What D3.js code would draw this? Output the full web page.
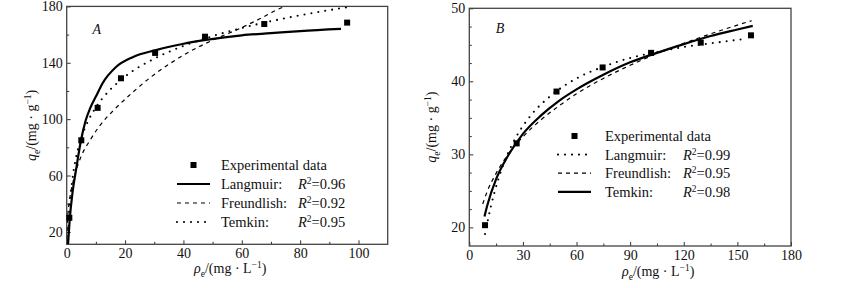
<!DOCTYPE html>
<html>
<head>
<meta charset="utf-8">
<script src="https://cdn.jsdelivr.net/npm/d3@7"></script>
<style>
  body { margin: 0; background: #fff; }
  svg text { font-family: "Liberation Serif", "DejaVu Serif", serif; fill: #111; }
</style>
</head>
<body>
<script>
// Panel A data
var aExpC = [0.9, 5, 10.6, 18.6, 30.3, 47.4, 67.7, 96.1];
var aExpQ = [30, 85, 108, 129, 147, 158.5, 167.5, 168.5];
var aLangC = [0.45, 1, 2, 3.2, 4.9, 6.5, 8.3, 10, 12.3, 16.9, 22.6, 30.6, 39.7, 47.7, 60, 70, 80, 94];
var aLangQ = [11, 28, 48, 64, 85, 99, 109, 116, 125.5, 137, 144, 149, 153.3, 156.2, 159.5, 161, 162.5, 164];
var aFreuC = [0.05, 0.3, 1, 2, 3, 4.9, 8, 11.2, 16.9, 22.6, 28.3, 34, 39.7, 45.4, 50, 60, 66, 73, 76];
var aFreuQ = [15, 28, 43, 54, 62, 73.4, 85, 95, 108, 119, 129, 137.5, 145, 151.5, 156, 165, 171, 178.5, 181];
var aTemkC = [0.5, 1, 2, 3, 5, 7.5, 10, 15, 20, 30, 40, 50, 60, 70, 80, 96];
var aTemkQ = [14.4, 36, 57.9, 70.6, 86.6, 99.4, 108.4, 121.1, 130.2, 142.9, 151.9, 158.9, 164.7, 169.5, 173.7, 179.4];

// Panel B data
var bExpC = [8.8, 26.5, 48.8, 74.6, 101.7, 129.5, 157.6];
var bExpQ = [20.3, 31.5, 38.6, 41.9, 43.9, 45.3, 46.3];
var bLangC = [8.8, 12, 16, 20, 26.5, 35, 45, 60, 75, 90, 105, 120, 135, 154];
var bLangQ = [19.1, 22.8, 26.4, 29.2, 32.5, 35.5, 37.9, 40.4, 42.0, 43.2, 44.0, 44.7, 45.2, 45.8];
var bFreuC = [7.5, 10, 15, 20, 30, 40, 50, 60, 75, 90, 105, 120, 135, 150, 158];
var bFreuQ = [23.2, 24.9, 27.4, 29.4, 32.4, 34.7, 36.6, 38.3, 40.4, 42.2, 43.8, 45.2, 46.5, 47.7, 48.3];
var bTemkC = [8.5, 10, 15, 20, 30, 40, 50, 60, 75, 90, 105, 120, 135, 150, 158.6];
var bTemkQ = [21.5, 22.96, 26.6, 29.1, 32.8, 35.3, 37.3, 38.9, 40.9, 42.6, 43.9, 45.1, 46.2, 47.1, 47.6];

// ticks
var aXTicks = [0, 20, 40, 60, 80, 100];
var aYTicks = [20, 60, 100, 140, 180];
var bXTicks = [0, 30, 60, 90, 120, 150, 180];
var bYTicks = [20, 30, 40, 50];

var w = 857, h = 288;
var serif = "'Liberation Serif', 'DejaVu Serif', serif";

var svg = d3.select("body").append("svg")
    .attr("width", w)
    .attr("height", h)
    .attr("font-family", serif);

// line styles
var styles = {
  solid:  { width: 2.2, dash: null, cap: "butt" },
  dashed: { width: 1.2, dash: "4,4", cap: "butt" },
  dotted: { width: 2.1, dash: "0,7", cap: "round" }
};

// rich text helper: parts = [[text, kind]], kind: "i" italic, "sub", "sup"
function richText(sel, parts) {
  var shift = 0;
  parts.forEach(function(p) {
    var t = sel.append("tspan").text(p[0]);
    var target = 0;
    if (p[1] === "sub") target = 4;
    if (p[1] === "sup") target = -5;
    if (target !== shift) { t.attr("dy", target - shift); shift = target; }
    if (p[1] === "i") t.style("font-style", "italic");
    if (p[1] === "sub" || p[1] === "sup") t.style("font-size", "9.5px");
  });
}

function drawPanel(cfg) {
  var x = d3.scaleLinear().domain(cfg.xDomain).range([cfg.left, cfg.right]);
  var y = d3.scaleLinear().domain(cfg.yDomain).range([cfg.bottom, cfg.top]);
  var g = svg.append("g");

  var clipId = "clip" + cfg.name;
  g.append("clipPath").attr("id", clipId)
    .append("rect")
    .attr("x", cfg.left).attr("y", cfg.top)
    .attr("width", cfg.right - cfg.left).attr("height", cfg.bottom - cfg.top);

  // axes (ticks point inward)
  var xAxis = d3.axisBottom(x).tickValues(cfg.xTicks).tickSize(-4).tickPadding(4);
  var xMinor = d3.axisBottom(x).tickValues(cfg.xMinor).tickSize(-2.5).tickFormat("");
  var yAxis = d3.axisLeft(y).tickValues(cfg.yTicks).tickSize(-4).tickPadding(4);
  var yMinor = d3.axisLeft(y).tickValues(cfg.yMinor).tickSize(-2.5).tickFormat("");

  [[xAxis, "bottom"], [xMinor, "bottom"], [yAxis, "left"], [yMinor, "left"]].forEach(function(a) {
    var ax = g.append("g")
      .attr("transform", a[1] === "bottom" ? "translate(0," + cfg.bottom + ")" : "translate(" + cfg.left + ",0)")
      .call(a[0])
      .attr("font-family", serif)
      .attr("font-size", 14);
    ax.select(".domain").remove();
    ax.selectAll("line").attr("stroke", "#333");
    ax.selectAll("text").attr("fill", "#111");
  });

  // frame
  g.append("rect")
    .attr("x", cfg.left).attr("y", cfg.top)
    .attr("width", cfg.right - cfg.left).attr("height", cfg.bottom - cfg.top)
    .attr("fill", "none").attr("stroke", "#444").attr("stroke-width", 1.3);

  // fitted curves
  var line = d3.line()
    .x(function(d) { return x(d[0]); })
    .y(function(d) { return y(d[1]); })
    .curve(d3.curveMonotoneX);

  cfg.curves.forEach(function(c) {
    var st = styles[c.style];
    g.append("path")
      .datum(d3.zip(c.xs, c.ys))
      .attr("clip-path", "url(#" + clipId + ")")
      .attr("d", line)
      .attr("fill", "none")
      .attr("stroke", "#000")
      .attr("stroke-width", st.width)
      .attr("stroke-linecap", st.cap)
      .attr("stroke-dasharray", st.dash);
  });

  // experimental points
  g.selectAll("rect.pt")
    .data(d3.zip(cfg.expC, cfg.expQ))
    .enter()
    .append("rect")
    .attr("class", "pt")
    .attr("x", function(d) { return x(d[0]) - 3; })
    .attr("y", function(d) { return y(d[1]) - 3; })
    .attr("width", 6).attr("height", 6)
    .attr("fill", "#000");

  // panel letter
  g.append("text")
    .attr("x", cfg.letterPos[0]).attr("y", cfg.letterPos[1])
    .attr("dy", "0.35em")
    .attr("text-anchor", "middle")
    .style("font-style", "italic").style("font-size", "14px")
    .text(cfg.name);

  // axis titles
  var xt = g.append("text")
    .attr("x", (cfg.left + cfg.right) / 2 + cfg.xTitleDx)
    .attr("y", cfg.xTitleY)
    .attr("text-anchor", "middle")
    .style("font-size", "14px");
  richText(xt, [["ρ", "i"], ["e", "sub"], ["/(mg · L", ""], ["−1", "sup"], [")", ""]]);

  var yt = g.append("text")
    .attr("transform", "translate(" + cfg.yTitleX + "," + ((cfg.top + cfg.bottom) / 2) + ") rotate(-90)")
    .attr("text-anchor", "middle")
    .style("font-size", "14px");
  richText(yt, [["q", "i"], ["e", "sub"], ["/(mg · g", ""], ["−1", "sup"], [")", ""]]);

  // legend
  var lg = cfg.legend;
  lg.rows.forEach(function(r, i) {
    var ry = lg.y0 + i * lg.step;
    if (r.style === "square") {
      g.append("rect")
        .attr("x", (lg.lineX0 + lg.lineX1) / 2 - 3).attr("y", ry - 3)
        .attr("width", 6).attr("height", 6).attr("fill", "#000");
    } else {
      var st = styles[r.style];
      g.append("line")
        .attr("x1", lg.lineX0).attr("x2", lg.lineX1)
        .attr("y1", ry).attr("y2", ry)
        .attr("stroke", "#000")
        .attr("stroke-width", st.width)
        .attr("stroke-linecap", st.cap)
        .attr("stroke-dasharray", st.dash);
    }
    g.append("text")
      .attr("x", lg.textX).attr("y", ry).attr("dy", "0.35em")
      .style("font-size", "14.5px")
      .text(r.label);
    if (r.r2) {
      var rt = g.append("text")
        .attr("x", lg.r2X).attr("y", ry).attr("dy", "0.35em")
        .style("font-size", "14.5px");
      richText(rt, [["R", "i"], ["2", "sup"], ["=" + r.r2, ""]]);
    }
  });
}

drawPanel({
  name: "A",
  left: 66.7, right: 387.7, top: 6.4, bottom: 244.3,
  xDomain: [0, 110], yDomain: [11.2, 180],
  xTicks: aXTicks, xMinor: [10, 30, 50, 70, 90],
  yTicks: aYTicks, yMinor: [40, 80, 120, 160],
  curves: [
    { xs: aLangC, ys: aLangQ, style: "solid" },
    { xs: aFreuC, ys: aFreuQ, style: "dashed" },
    { xs: aTemkC, ys: aTemkQ, style: "dotted" }
  ],
  expC: aExpC, expQ: aExpQ,
  letterPos: [96.7, 29],
  xTitleDx: 3, xTitleY: 273, yTitleX: 36,
  legend: {
    y0: 165, step: 19, lineX0: 177, lineX1: 210, textX: 221, r2X: 298,
    rows: [
      { label: "Experimental data", style: "square" },
      { label: "Langmuir:", style: "solid", r2: "0.96" },
      { label: "Freundlish:", style: "dashed", r2: "0.92" },
      { label: "Temkin:", style: "dotted", r2: "0.95" }
    ]
  }
});

drawPanel({
  name: "B",
  left: 469.3, right: 791, top: 8.3, bottom: 246,
  xDomain: [0, 180], yDomain: [17.45, 50],
  xTicks: bXTicks, xMinor: [15, 45, 75, 105, 135, 165],
  yTicks: bYTicks, yMinor: [22.5, 25, 27.5, 32.5, 35, 37.5, 42.5, 45, 47.5],
  curves: [
    { xs: bLangC, ys: bLangQ, style: "dotted" },
    { xs: bFreuC, ys: bFreuQ, style: "dashed" },
    { xs: bTemkC, ys: bTemkQ, style: "solid" }
  ],
  expC: bExpC, expQ: bExpQ,
  letterPos: [500, 28],
  xTitleDx: 28, xTitleY: 276, yTitleX: 436,
  legend: {
    y0: 136, step: 18.6, lineX0: 558, lineX1: 591, textX: 605, r2X: 683,
    rows: [
      { label: "Experimental data", style: "square" },
      { label: "Langmuir:", style: "dotted", r2: "0.99" },
      { label: "Freundlish:", style: "dashed", r2: "0.95" },
      { label: "Temkin:", style: "solid", r2: "0.98" }
    ]
  }
});
</script>
</body>
</html>
